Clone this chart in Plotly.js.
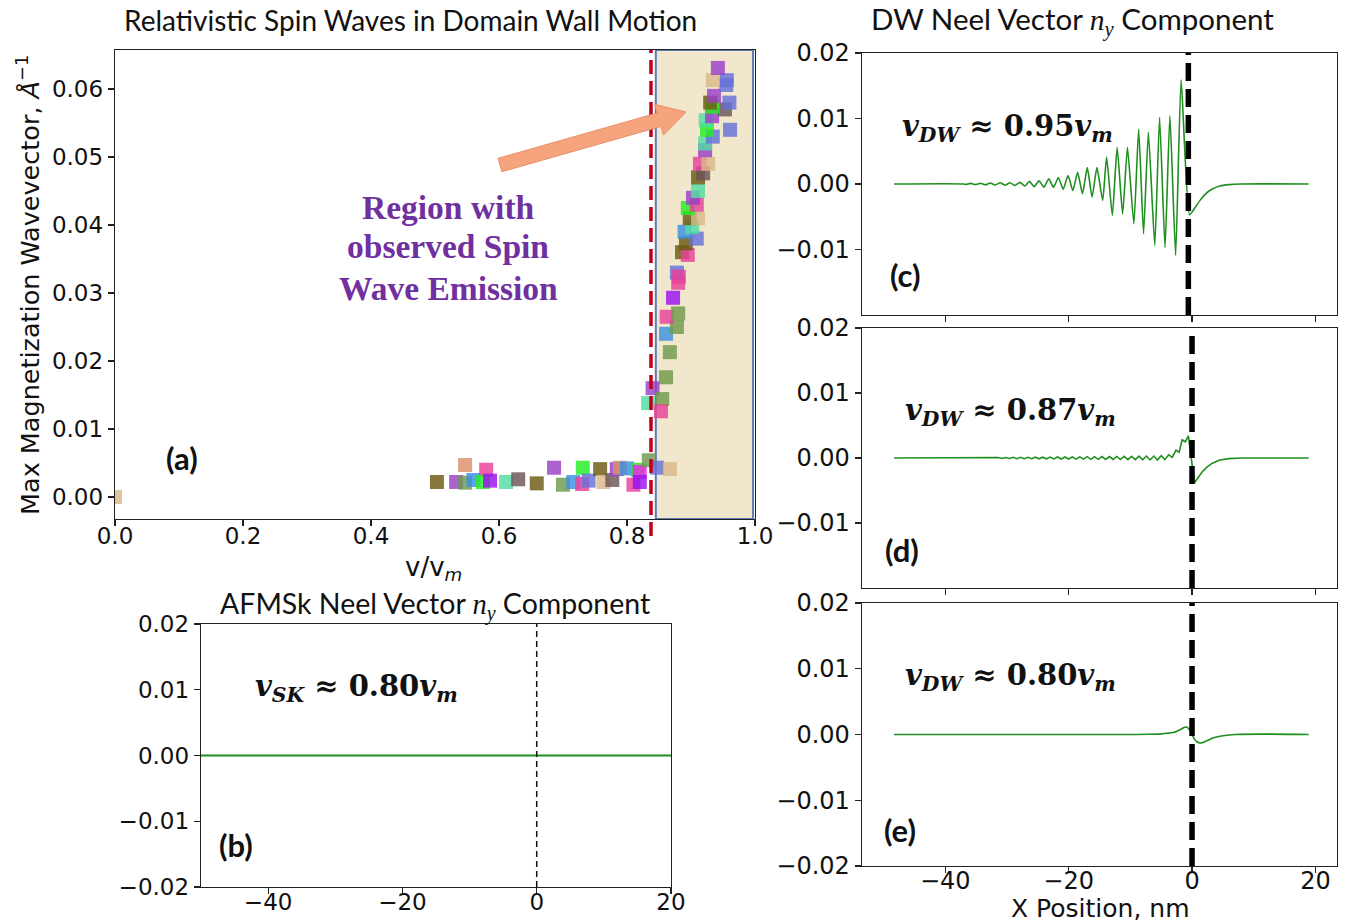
<!DOCTYPE html>
<html>
<head>
<meta charset="utf-8">
<script src="https://cdn.plot.ly/plotly-3.0.1.min.js"></script>
<style>html,body{margin:0;padding:0;background:#fff;}#chart{width:1349px;height:923px;}</style>
</head>
<body>
<div id="chart"></div>
<script>
// ---------- Panel (a): max magnetization wavevector vs v/v_m ----------
const aVelocity = [0.0,0.503,0.533,0.547,0.547,0.56,0.58,0.575,0.586,0.611,0.63,0.659,0.686,0.70,0.716,0.731,0.73,0.74,0.758,0.763,0.777,0.784,0.789,0.80,0.817,0.82,0.81,0.82,0.834,0.847,0.867,
  0.833,0.84,0.855,0.853,0.861,0.867,0.861,0.878,0.862,0.88,0.872,0.88,0.878,0.881,0.886,0.895,0.892,0.909,0.89,0.902,0.898,0.911,0.895,0.909,0.903,0.911,0.911,0.919,0.914,0.927,0.922,0.922,0.934,0.925,0.923,0.961,0.933,0.953,0.934,0.96,0.93,0.936,0.955,0.956,0.934,0.942];
const aWavevector = [0.0,0.0022,0.0022,0.0047,0.0021,0.0025,0.004,0.0022,0.0024,0.0022,0.0026,0.002,0.0043,0.0018,0.0022,0.0043,0.0019,0.0024,0.0041,0.0022,0.0025,0.0041,0.0043,0.0042,0.004,0.0037,0.0018,0.0022,0.0054,0.0043,0.0041,
  0.0138,0.016,0.0144,0.0126,0.0176,0.0213,0.024,0.025,0.0265,0.027,0.0293,0.0315,0.033,0.0324,0.036,0.0356,0.0373,0.038,0.039,0.0397,0.041,0.041,0.0425,0.043,0.044,0.045,0.047,0.0476,0.049,0.049,0.051,0.052,0.053,0.054,0.0554,0.054,0.056,0.057,0.0574,0.058,0.058,0.059,0.0606,0.0613,0.0613,0.0631];
const aSeries = [5,0,1,9,4,10,3,2,12,7,8,0,1,4,10,2,3,6,0,5,8,1,9,10,2,11,3,12,4,6,5,
  7,1,4,3,4,4,10,4,3,4,12,3,6,3,0,3,0,6,10,7,0,5,2,3,1,7,0,8,3,5,1,7,6,2,7,6,1,8,2,6,0,1,6,6,5,1];
const seriesPalette = ['#6b5a12','#9b3fc8','#22ee22','#e8409a','#6f9a4c','#d9b98a','#6670d8','#52dca2','#6a5458','#d9906a','#3a90e0','#ee22ee','#9a10f0'];

// ---------- Panel (b): skyrmion n_y ----------
const bX = [-50, 20];
const bY = [0, 0];

// ---------- Panel (c): DW n_y, v = 0.95 v_m ----------
const cX = [-48.3,-37.0,-36.7,-35.9,-35.1,-34.3,-33.5,-32.7,-31.9,-31.1,-30.3,-29.5,-28.7,-27.9,-27.1,-26.35,-25.6,-24.8,-24.0,-23.23,-22.45,-21.67,-20.89,-20.1,-19.32,-18.54,-17.76,-16.98,-16.2,-15.42,-14.48,-13.85,-12.92,-12.14,-11.25,-10.47,-9.43,-8.65,-7.86,-7.08,-6.04,-5.26,-4.38,-3.59,-2.66,-1.77,-0.4,0.5,1.3,2.2,3.2,4.5,6.0,8.0,18.9];
const cY = [0,0,-0.00008,0.0001,-0.0001,0.00012,-0.00012,0.00015,-0.00015,0.00018,-0.0002,0.0002,-0.00022,0.00025,-0.0003,0.0004,-0.0004,0.0005,-0.0005,0.0008,-0.0005,0.001,-0.0008,0.0013,-0.001,0.0018,-0.0015,0.0025,-0.002,0.0025,-0.0025,0.0041,-0.0048,0.0056,-0.0046,0.0056,-0.0061,0.0084,-0.0076,0.0079,-0.0094,0.0102,-0.0097,0.0104,-0.0109,0.0159,-0.0047,-0.0036,-0.0025,-0.0015,-0.0008,-0.0003,-0.0001,0,0];

// ---------- Panel (d): DW n_y, v = 0.87 v_m ----------
const dX = [-48.3,-32.0,-31.4,-30.8,-30.2,-29.6,-29.0,-28.4,-27.8,-27.2,-26.6,-26.0,-25.4,-24.8,-24.2,-23.6,-23.0,-22.4,-21.8,-21.2,-20.6,-20.0,-19.4,-18.8,-18.2,-17.6,-17.0,-16.4,-15.8,-15.2,-14.6,-14.0,-13.4,-12.8,-12.2,-11.6,-11.0,-10.4,-9.8,-9.2,-8.6,-8.0,-7.4,-6.8,-6.2,-5.6,-5.0,-4.4,-3.8,-3.2,-2.6,-2.1,-1.6,-1.1,-0.6,0.4,1.0,1.6,2.4,3.3,4.5,6.0,8.0,18.9];
const dY = [0,0,0.00008,-0.00008,0.00008,-0.00008,0.0001,-0.0001,0.0001,-0.0001,0.0001,-0.0001,0.00012,-0.00012,0.00012,-0.00012,0.00014,-0.00014,0.00015,-0.00015,0.00016,-0.00016,0.00018,-0.00018,0.00018,-0.00018,0.0002,-0.0002,0.0002,-0.0002,0.00022,-0.00022,0.00022,-0.00022,0.00024,-0.00024,0.00025,-0.00025,0.00026,-0.00026,0.00028,-0.00028,0.0003,-0.0003,0.0003,-0.0003,0.00035,-0.00025,0.0005,0.0001,0.0012,0.0009,0.0028,0.0025,0.0034,-0.0038,-0.003,-0.0022,-0.0014,-0.0008,-0.0003,-0.0001,0,0];

// ---------- Panel (e): DW n_y, v = 0.80 v_m ----------
const eX = [-48.3,-10,-7,-5,-4,-3,-2.2,-1.6,-1.2,-0.8,-0.4,0,0.4,0.8,1.3,1.8,2.5,3.5,5,7,18.9];
const eY = [0,0,0.00003,0.0001,0.00018,0.0003,0.0006,0.0009,0.0011,0.0011,0.0007,0,-0.0007,-0.0011,-0.0013,-0.0012,-0.0009,-0.0005,-0.0002,0,0];

const yTicksRight = [-0.02,-0.01,0,0.01,0.02];

// ---------- helpers (pixel -> paper) ----------
const W = 1349, H = 923;
const px = x => x / W;
const py = y => 1 - y / H;
const dom = (a, b) => [px(a), px(b)];
const domY = (top, bottom) => [py(bottom), py(top)];

const GREEN = '#1f8f1f';
const axisBase = {
  showline: true, mirror: true, linecolor: '#222', linewidth: 1.3,
  ticks: 'outside', ticklen: 6, tickwidth: 1.2, tickcolor: '#222',
  showgrid: false, zeroline: false,
  tickfont: {family: 'DejaVu Sans', size: 23, color: '#111'}
};
const ax = o => Object.assign({}, axisBase, o);
const xax = o => Object.assign({}, axisBase, {ticklabelstandoff: -10}, o);
const bigTick = {family: 'DejaVu Sans', size: 24, color: '#111'};

const traces = [
  {x: aVelocity, y: aWavevector, type: 'scatter', mode: 'markers', xaxis: 'x', yaxis: 'y',
   marker: {symbol: 'square', size: 14, color: aSeries.map(i => seriesPalette[i]), opacity: 0.82, line: {width: 0}},
   showlegend: false, hoverinfo: 'skip'},
  {x: bX, y: bY, type: 'scatter', mode: 'lines', xaxis: 'x2', yaxis: 'y2', line: {color: GREEN, width: 1.8}, showlegend: false},
  {x: cX, y: cY, type: 'scatter', mode: 'lines', xaxis: 'x3', yaxis: 'y3', line: {color: GREEN, width: 1.6, shape: 'spline', smoothing: 0.5}, showlegend: false},
  {x: dX, y: dY, type: 'scatter', mode: 'lines', xaxis: 'x4', yaxis: 'y4', line: {color: GREEN, width: 1.6}, showlegend: false},
  {x: eX, y: eY, type: 'scatter', mode: 'lines', xaxis: 'x5', yaxis: 'y5', line: {color: GREEN, width: 1.6, shape: 'spline'}, showlegend: false}
];

// arrow polygon (pixels)
const arrowPx = [[501.9,171.7],[661.0,126.4],[663.5,135.1],[686,112],[654.7,104.3],[657.2,113.0],[498.1,158.3]];
const arrowPath = 'M ' + arrowPx.map(p => px(p[0]).toFixed(5) + ',' + py(p[1]).toFixed(5)).join(' L ') + ' Z';

const rightX = dom(862, 1337);
const rightXRange = [-53.5, 23.5];

const layout = {
  width: W, height: H,
  margin: {l: 0, r: 0, t: 0, b: 0, pad: 0},
  paper_bgcolor: '#fff', plot_bgcolor: '#fff',
  showlegend: false,
  xaxis: xax({domain: dom(115, 755), range: [0, 1], tickvals: [0,0.2,0.4,0.6,0.8,1.0], ticktext: ['0.0','0.2','0.4','0.6','0.8','1.0'], anchor: 'y'}),
  yaxis: ax({domain: domY(50, 519), range: [-0.00324, 0.06574], tickvals: [0,0.01,0.02,0.03,0.04,0.05,0.06], tickformat: '.2f', anchor: 'x'}),
  xaxis2: xax({domain: dom(201, 671), range: [-50, 20], tickvals: [-40,-20,0,20], anchor: 'y2', ticklabelstandoff: -12}),
  yaxis2: ax({domain: domY(624, 887), range: [-0.02, 0.02], tickvals: yTicksRight, tickformat: '.2f', anchor: 'x2'}),
  xaxis3: xax({domain: rightX, range: rightXRange, tickvals: [-40,-20,0,20], showticklabels: false, anchor: 'y3'}),
  yaxis3: ax({domain: domY(53, 315), range: [-0.02, 0.02], tickvals: [-0.01,0,0.01,0.02], tickformat: '.2f', anchor: 'x3', tickfont: bigTick}),
  xaxis4: xax({domain: rightX, range: rightXRange, tickvals: [-40,-20,0,20], showticklabels: false, anchor: 'y4'}),
  yaxis4: ax({domain: domY(328, 588), range: [-0.02, 0.02], tickvals: [-0.01,0,0.01,0.02], tickformat: '.2f', anchor: 'x4', tickfont: bigTick}),
  xaxis5: xax({domain: rightX, range: rightXRange, tickvals: [-40,-20,0,20], anchor: 'y5', tickfont: bigTick, ticklabelstandoff: -13}),
  yaxis5: ax({domain: domY(603, 866), range: [-0.02, 0.02], tickvals: yTicksRight, tickformat: '.2f', anchor: 'x5', tickfont: bigTick}),
  shapes: [
    {type: 'rect', xref: 'x', yref: 'y domain', x0: 0.845, x1: 0.997, y0: 0, y1: 1, fillcolor: '#f1e7cc', line: {color: '#5b7bb5', width: 2}, layer: 'below'},
    {type: 'line', xref: 'x', yref: 'paper', x0: 0.8375, x1: 0.8375, y0: py(536), y1: py(50), line: {color: '#c0001a', width: 3.5, dash: '14px,7px'}},
    {type: 'path', xref: 'paper', yref: 'paper', path: arrowPath, fillcolor: '#f6a47e', line: {color: '#e8906a', width: 1}},
    {type: 'line', xref: 'x2', yref: 'y2 domain', x0: 0, x1: 0, y0: 0, y1: 1, line: {color: '#111', width: 1.5, dash: '6px,4px'}},
    {type: 'line', xref: 'x3', yref: 'y3 domain', x0: -0.6, x1: -0.6, y0: 0, y1: 1, line: {color: '#000', width: 5.5, dash: '18px,8px'}},
    {type: 'line', xref: 'x4', yref: 'y4 domain', x0: 0, x1: 0, y0: 0, y1: 1, line: {color: '#000', width: 5.5, dash: '18px,8px'}},
    {type: 'line', xref: 'x5', yref: 'y5 domain', x0: 0, x1: 0, y0: 0, y1: 1, line: {color: '#000', width: 5.5, dash: '18px,8px'}}
  ],
  annotations: []
};

const ann = (x, y, text, font, extra) => Object.assign({
  xref: 'paper', yref: 'paper', x: px(x), y: py(y), text: text, showarrow: false,
  xanchor: 'center', yanchor: 'middle', font: font
}, extra || {});

const titleFont = s => ({family: 'Lato, Open Sans, sans-serif', size: s, color: '#111'});
const labFont = s => ({family: 'DejaVu Sans', size: s, color: '#111'});
const mathSpan = t => '<span style="font-family:Liberation Serif">' + t + '</span>';
const vFont = {family: 'DejaVu Serif, serif', size: 29, color: '#111'};
const tagFont = {family: 'Lato, Open Sans, sans-serif', size: 31, color: '#111'};
const regionFont = {family: 'Liberation Serif, serif', size: 33.5, color: '#7030a0'};

layout.annotations.push(
  ann(410, 20, 'Relativistic Spin Waves in Domain Wall Motion', titleFont(28)),
  ann(435, 605, 'AFMSk Neel Vector ' + mathSpan('<i>n</i><sub><i>y</i></sub>') + ' Component', titleFont(28.5)),
  ann(1072, 21, 'DW Neel Vector ' + mathSpan('<i>n</i><sub><i>y</i></sub>') + ' Component', titleFont(29.5)),
  ann(28, 285, 'Max Magnetization Wavevector, <i>Å</i><sup>−1</sup>', labFont(25.5), {textangle: -90}),
  ann(433, 568, 'v/v<sub><i>m</i></sub>', labFont(26)),
  ann(1100, 908, 'X Position, nm', labFont(25)),
  ann(448, 207, '<b>Region with</b>', regionFont),
  ann(448, 247, '<b>observed Spin</b>', regionFont),
  ann(448, 288, '<b>Wave Emission</b>', regionFont),
  ann(182, 458, '<b>(a)</b>', tagFont),
  ann(236, 845, '<b>(b)</b>', tagFont),
  ann(905, 275, '<b>(c)</b>', tagFont),
  ann(902, 550, '<b>(d)</b>', tagFont),
  ann(900, 830, '<b>(e)</b>', tagFont),
  ann(356, 688, '<b><i>v</i><sub><i>SK</i></sub> ≈ 0.80<i>v</i><sub><i>m</i></sub></b>', vFont),
  ann(1008, 128, '<b><i>v</i><sub><i>DW</i></sub> ≈ 0.95<i>v</i><sub><i>m</i></sub></b>', vFont),
  ann(1010, 412, '<b><i>v</i><sub><i>DW</i></sub> ≈ 0.87<i>v</i><sub><i>m</i></sub></b>', vFont),
  ann(1010, 677, '<b><i>v</i><sub><i>DW</i></sub> ≈ 0.80<i>v</i><sub><i>m</i></sub></b>', vFont)
);

Plotly.newPlot('chart', traces, layout, {displayModeBar: false, staticPlot: true});
</script>
</body>
</html>
